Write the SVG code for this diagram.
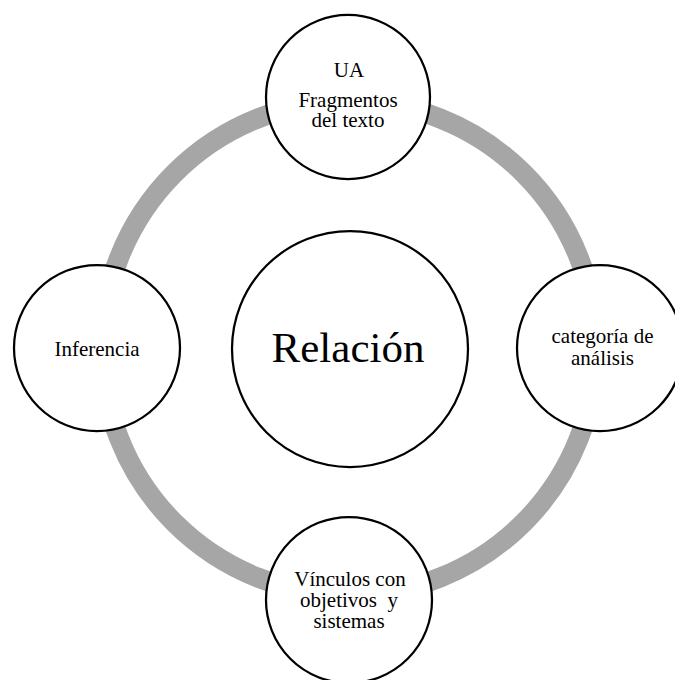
<svg xmlns="http://www.w3.org/2000/svg" width="675" height="680" viewBox="0 0 675 680">
<style>
.node{fill:#fff;stroke:#000;stroke-width:2.25}
.t{font-family:"Liberation Serif","Times New Roman",serif;font-size:21px;fill:#000;text-anchor:middle}
.big{font-size:43px}
.ring{fill:none;stroke:#A6A6A6;stroke-width:20}
</style>
<rect width="675" height="680" fill="#fff"/>
<g id="connectors">
<circle class="ring" cx="349" cy="348" r="247"/>
</g>
<g id="center">
<circle class="node" cx="350" cy="349" r="118"/>
<text class="t big" x="348" y="362">Relación</text>
</g>
<g id="top">
<circle class="node" cx="348" cy="97" r="82"/>
<text class="t" x="349" y="77">UA</text>
<text class="t" x="348" y="106.5">Fragmentos</text>
<text class="t" x="348" y="127">del texto</text>
</g>
<g id="right">
<circle class="node" cx="600" cy="348" r="83"/>
<text class="t" x="602.5" y="343">categoría de</text>
<text class="t" x="602.5" y="365">análisis</text>
</g>
<g id="bottom">
<circle class="node" cx="349" cy="600" r="83"/>
<text class="t" x="350" y="586">Vínculos con</text>
<text class="t" x="349" y="606.5">objetivos&#160; y</text>
<text class="t" x="349" y="628">sistemas</text>
</g>
<g id="left">
<circle class="node" cx="97" cy="348" r="83"/>
<text class="t" x="97" y="355.5">Inferencia</text>
</g>
</svg>
